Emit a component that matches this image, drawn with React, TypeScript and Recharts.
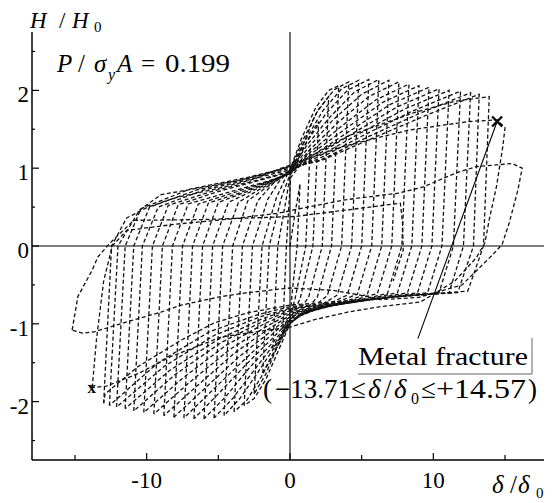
import React from "react";
import { LineChart, Line, XAxis, YAxis, ReferenceLine, ReferenceDot } from "recharts";

type Pt = [number, number];

const SERIF = "'Liberation Serif', 'Times New Roman', 'DejaVu Serif', serif";
const serif = { fontFamily: SERIF };

const xTicks = [-15, -10, -5, 0, 5, 10, 15];
const yTicks = [-2.5, -2, -1.5, -1, -0.5, 0, 0.5, 1, 1.5, 2, 2.5];
const xLabelled = [-10, 0, 10];
const yLabelled = [-2, -1, 0, 1, 2];

// hysteresis history, one array per loading cycle (δ/δ0, H/H0)
const cycle01: Pt[] = [[0, 0], [0.35, 0.42], [0.7, 0.8], [0.5, 0], [0.15, -0.6], [0.02, -0.9], [-0.5, -1.05]];
const cycle02: Pt[] = [[-0.5, -1.05], [-0.25, 0], [-0.05, 0.6], [0.05, 0.88], [0.75, 1.05], [1.4, 1.24], [1.1, 0], [0.35, -0.68], [0, -0.93], [-0.6, -1.15], [-1.2, -1.32]];
const cycle03: Pt[] = [[-1.2, -1.32], [-0.85, 0], [-0.25, 0.62], [0, 0.9], [0.8, 1.2], [1.4, 1.42], [2.0, 1.6], [1.6, 0], [0.7, -0.68], [0, -0.95], [-0.8, -1.25], [-1.9, -1.63]];
const cycle04: Pt[] = [[-1.9, -1.63], [-1.45, 0], [-0.6, 0.62], [0, 0.92], [0.9, 1.3], [1.8, 1.7], [2.7, 1.92], [2.25, 0], [1.3, -0.66], [0.5, -0.86], [0, -0.96], [-0.9, -1.3], [-1.7, -1.65], [-2.5, -1.9]];
const cycle05: Pt[] = [[-2.5, -1.9], [-1.95, 0], [-0.95, 0.62], [-0.4, 0.84], [0, 0.98], [0.8, 1.38], [1.8, 1.78], [2.7, 2.0], [3.4, 2.06], [2.9, 0], [1.9, -0.66], [0.9, -0.86], [0, -1.0], [-0.8, -1.34], [-1.7, -1.72], [-2.5, -1.96], [-3.2, -2.05]];
const cycle06: Pt[] = [[-3.2, -2.05], [-2.62, 0], [-1.55, 0.6], [-0.8, 0.82], [0, 0.98], [0.9, 1.36], [2.0, 1.76], [3.1, 2.01], [4.1, 2.11], [3.6, 0], [2.6, -0.64], [1.5, -0.8], [0.6, -0.9], [0, -1.0], [-0.9, -1.3], [-2.0, -1.68], [-3.0, -1.98], [-3.9, -2.13]];
const cycle07: Pt[] = [[-3.9, -2.13], [-3.32, 0], [-2.25, 0.58], [-1.2, 0.8], [0, 0.97], [1.0, 1.34], [2.3, 1.74], [3.6, 2.02], [4.8, 2.13], [4.3, 0], [3.3, -0.63], [2.0, -0.78], [0.8, -0.88], [0, -0.99], [-1.0, -1.28], [-2.3, -1.64], [-3.5, -1.96], [-4.6, -2.18]];
const cycle08: Pt[] = [[-4.6, -2.18], [-4.0, 0], [-2.95, 0.58], [-1.6, 0.76], [-0.6, 0.88], [0, 0.97], [1.1, 1.32], [2.5, 1.7], [4.0, 2.0], [5.5, 2.14], [5.0, 0], [4.0, -0.63], [2.5, -0.76], [1.0, -0.87], [0, -0.98], [-1.1, -1.26], [-2.6, -1.62], [-4.0, -1.96], [-5.3, -2.21]];
const cycle09: Pt[] = [[-5.3, -2.21], [-4.7, 0], [-3.6, 0.56], [-2.2, 0.72], [-0.8, 0.86], [0, 0.96], [1.2, 1.3], [2.8, 1.66], [4.5, 1.98], [6.2, 2.14], [5.7, 0], [4.7, -0.62], [3.0, -0.74], [1.2, -0.85], [0, -0.97], [-1.2, -1.24], [-2.9, -1.58], [-4.5, -1.94], [-6.0, -2.22]];
const cycle10: Pt[] = [[-6.0, -2.22], [-5.4, 0], [-4.3, 0.56], [-2.6, 0.71], [-1.0, 0.85], [0, 0.95], [1.3, 1.27], [3.0, 1.62], [5.0, 1.95], [6.9, 2.13], [6.4, 0], [5.4, -0.62], [3.5, -0.73], [1.5, -0.84], [0, -0.95], [-1.3, -1.2], [-3.1, -1.53], [-5.0, -1.9], [-6.7, -2.22]];
const cycle11: Pt[] = [[-6.7, -2.22], [-6.1, 0], [-5.0, 0.56], [-3.0, 0.7], [-1.2, 0.84], [0, 0.94], [1.4, 1.24], [3.3, 1.58], [5.5, 1.92], [7.6, 2.11], [7.1, 0], [6.1, -0.61], [4.0, -0.72], [1.8, -0.82], [0, -0.93], [-1.4, -1.16], [-3.3, -1.48], [-5.5, -1.87], [-7.4, -2.21]];
const cycle12: Pt[] = [[-7.4, -2.21], [-6.8, 0], [-5.7, 0.55], [-3.4, 0.69], [-1.3, 0.84], [0, 0.94], [1.5, 1.22], [3.6, 1.54], [6.0, 1.88], [8.3, 2.08], [7.8, 0], [6.8, -0.61], [4.5, -0.71], [2.0, -0.8], [0, -0.91], [-1.5, -1.12], [-3.6, -1.43], [-6.0, -1.84], [-8.1, -2.2]];
const cycle13: Pt[] = [[-8.1, -2.2], [-7.5, 0], [-6.4, 0.54], [-4.0, 0.68], [-1.5, 0.83], [0, 0.93], [1.6, 1.2], [3.9, 1.51], [6.5, 1.85], [9.0, 2.06], [8.5, 0], [7.5, -0.6], [5.0, -0.7], [2.2, -0.79], [0, -0.89], [-1.6, -1.08], [-3.9, -1.38], [-6.5, -1.8], [-8.8, -2.18]];
const cycle14: Pt[] = [[-8.8, -2.18], [-8.2, 0], [-7.1, 0.54], [-4.5, 0.68], [-1.6, 0.83], [0, 0.93], [1.7, 1.18], [4.2, 1.48], [7.0, 1.82], [9.7, 2.04], [9.2, 0], [8.2, -0.6], [5.5, -0.69], [2.5, -0.78], [0, -0.87], [-1.7, -1.04], [-4.2, -1.33], [-7.0, -1.75], [-9.5, -2.16]];
const cycle15: Pt[] = [[-9.5, -2.16], [-8.9, 0], [-7.8, 0.53], [-5.0, 0.7], [-1.8, 0.86], [0, 0.95], [1.8, 1.16], [4.5, 1.46], [7.5, 1.79], [10.4, 2.02], [9.9, 0], [8.9, -0.6], [6.0, -0.68], [2.8, -0.77], [0, -0.85], [-1.8, -1.0], [-4.5, -1.28], [-7.5, -1.7], [-10.2, -2.14]];
const cycle16: Pt[] = [[-10.2, -2.14], [-9.6, 0], [-8.5, 0.52], [-5.5, 0.7], [-2.0, 0.86], [0, 0.96], [1.9, 1.14], [4.8, 1.44], [8.0, 1.76], [11.1, 2.0], [10.6, 0], [9.6, -0.6], [6.5, -0.67], [3.0, -0.76], [0, -0.83], [-1.9, -0.97], [-4.8, -1.24], [-8.0, -1.65], [-10.9, -2.12]];
const cycle17: Pt[] = [[-10.9, -2.12], [-10.3, 0], [-9.2, 0.5], [-6.0, 0.72], [-2.2, 0.88], [0, 0.98], [2.0, 1.12], [5.1, 1.42], [8.5, 1.73], [11.9, 1.99], [11.4, 0], [10.4, -0.6], [7.0, -0.66], [3.3, -0.74], [0, -0.81], [-2.0, -0.94], [-5.0, -1.2], [-8.4, -1.6], [-11.5, -2.09]];
const cycle18: Pt[] = [[-11.5, -2.09], [-10.9, 0], [-9.8, 0.5], [-6.5, 0.72], [-2.4, 0.89], [0, 1.0], [2.1, 1.1], [5.4, 1.4], [9.0, 1.7], [12.6, 1.97], [12.1, 0], [11.1, -0.6], [7.5, -0.65], [3.6, -0.73], [0, -0.8], [-2.1, -0.91], [-5.3, -1.15], [-8.8, -1.55], [-12.1, -2.07]];
const cycle19: Pt[] = [[-12.1, -2.07], [-11.5, 0], [-10.4, 0.48], [-7.0, 0.73], [-3.0, 0.88], [-1.0, 0.97], [0, 1.02], [2.2, 1.1], [5.7, 1.38], [9.5, 1.68], [13.2, 1.95], [12.8, 0], [11.7, -0.6], [8.0, -0.64], [3.9, -0.72], [0, -0.78], [-2.2, -0.88], [-5.6, -1.1], [-9.2, -1.5], [-12.6, -2.05]];
const cycle20: Pt[] = [[-12.6, -2.05], [-12.0, 0], [-10.5, 0.46], [-9.0, 0.66], [-6.2, 0.75], [-3.4, 0.85], [-1.1, 0.96], [0.3, 1.04], [4.0, 1.41], [8.6, 1.71], [11.5, 1.86], [13.9, 1.92], [13.5, 0], [12.4, -0.58], [9.0, -0.63], [4.2, -0.7], [0, -0.76], [-3.0, -0.86], [-5.3, -0.99], [-7.6, -1.21], [-10.6, -1.55], [-12.9, -1.9], [-13.0, -2.02]];
// fracture cycle
const cycle21: Pt[] = [[-13.0, -2.02], [-12.45, 0], [-11.4, 0.36], [-9.9, 0.5], [-8.0, 0.62], [-5.0, 0.74], [-2.5, 0.86], [-0.9, 0.98], [3.7, 1.28], [8.3, 1.49], [12.5, 1.6], [14.45, 1.62], [15.0, 1.52], [14.85, 1.28], [14.4, 0.76], [13.9, 0.34], [13.6, 0.04], [13.0, -0.15], [11.5, -0.45], [10.0, -0.62], [9.1, -0.72], [6.3, -0.78], [4.0, -0.85], [1.65, -0.95], [0.05, -1.04], [-1.5, -1.08], [-4.8, -1.17], [-8.3, -1.42], [-10.6, -1.64], [-12.8, -1.8], [-13.8, -1.82]];
// post-fracture cycles
const cycle22: Pt[] = [[-13.8, -1.82], [-13.5, -1.2], [-13.0, -0.45], [-12.4, 0], [-11.4, 0.2], [-8.0, 0.28], [-4.0, 0.35], [-0.9, 0.42], [3.7, 0.59], [7.6, 0.68], [9.3, 0.76], [11.6, 0.94], [13.0, 1.02], [15.5, 1.06], [16.2, 1.0], [15.9, 0.72], [15.3, 0.3], [14.8, 0.02], [14.1, -0.12], [12.0, -0.5], [9.0, -0.66], [6.3, -0.69], [5.5, -0.65], [3.0, -0.57], [0, -0.54], [-3.0, -0.6], [-4.8, -0.65], [-7.6, -0.76], [-9.0, -0.85], [-11.3, -0.97], [-13.6, -1.1], [-14.5, -1.12], [-15.2, -1.08]];
const cycle23: Pt[] = [[-15.2, -1.08], [-14.8, -0.65], [-13.8, -0.31], [-13.4, -0.14], [-12.6, 0.03], [-10.9, 0.33], [-6.0, 0.34], [0.4, 0.38], [7.7, 0.55], [7.85, 0.3], [7.9, -0.05], [7.2, -0.45]];

const cycles = [
  cycle01, cycle02, cycle03, cycle04, cycle05, cycle06, cycle07, cycle08,
  cycle09, cycle10, cycle11, cycle12, cycle13, cycle14, cycle15, cycle16,
  cycle17, cycle18, cycle19, cycle20, cycle21, cycle22, cycle23,
];

const fractureTension: Pt = [14.45, 1.6];
const fractureCompression: Pt = [-13.83, -1.82];
const leaderEnd: Pt = [8.92, -1.19];

const BottomTick = ({ x, y, payload }: any) => {
  const major = xLabelled.includes(payload.value);
  return (
    <g>
      <line x1={x} x2={x} y1={y} y2={y - (major ? 7 : 5)} stroke="#000" strokeWidth={1.2} />
      {major && (
        <text x={x} y={y + 28} textAnchor="middle" style={serif} fontSize={23} fill="#000">
          {payload.value}
        </text>
      )}
    </g>
  );
};

const TopTick = ({ x, y }: any) => (
  <line x1={x} x2={x} y1={y} y2={y + 6} stroke="#000" strokeWidth={1.2} />
);

const LeftTick = ({ x, y, payload }: any) => {
  const major = yLabelled.includes(payload.value);
  return (
    <g>
      <line x1={x} x2={x + (major ? 7 : 3)} y1={y} y2={y} stroke="#000" strokeWidth={1.2} />
      {major && (
        <text x={x - 3} y={y + 12} textAnchor="end" style={serif} fontSize={23} fill="#000">
          {payload.value}
        </text>
      )}
    </g>
  );
};

const RightTick = ({ x, y }: any) => (
  <line x1={x} x2={x - 6} y1={y} y2={y} stroke="#000" strokeWidth={1.2} />
);

const BigCross = ({ cx, cy }: any) => (
  <g stroke="#000" strokeWidth={2.4}>
    <line x1={cx - 5} y1={cy - 5} x2={cx + 5} y2={cy + 5} />
    <line x1={cx - 5} y1={cy + 5} x2={cx + 5} y2={cy - 5} />
  </g>
);

const SmallX = ({ cx, cy }: any) => (
  <text x={cx} y={cy + 5} textAnchor="middle" style={serif} fontWeight="bold" fontSize={17} fill="#000">
    x
  </text>
);

export default function App() {
  return (
    <div style={{ position: "relative", width: 544, height: 495 }}>
      <LineChart width={544} height={495} margin={{ top: 24, right: 4, bottom: 0, left: 0 }}>
        <XAxis
          dataKey="x"
          type="number"
          domain={[-18, 18]}
          allowDataOverflow
          ticks={xTicks}
          interval={0}
          height={43}
          tickSize={0}
          tickMargin={0}
          tickLine={false}
          tick={<BottomTick />}
          axisLine={{ stroke: "#000", strokeWidth: 1.5 }}
        />
        <XAxis
          xAxisId="top"
          orientation="top"
          type="number"
          domain={[-18, 18]}
          allowDataOverflow
          ticks={xTicks}
          interval={0}
          height={0}
          tickSize={0}
          tickMargin={0}
          tickLine={false}
          tick={<TopTick />}
          axisLine={{ stroke: "#000", strokeWidth: 1.5 }}
        />
        <YAxis
          type="number"
          domain={[-2.75, 2.75]}
          allowDataOverflow
          ticks={yTicks}
          interval={0}
          width={24}
          tickSize={0}
          tickMargin={0}
          tickLine={false}
          tick={<LeftTick />}
          axisLine={{ stroke: "#000", strokeWidth: 1.5 }}
        />
        <YAxis
          yAxisId="right"
          orientation="right"
          type="number"
          domain={[-2.75, 2.75]}
          allowDataOverflow
          ticks={yTicks}
          interval={0}
          width={0}
          tickSize={0}
          tickMargin={0}
          tickLine={false}
          tick={<RightTick />}
          axisLine={{ stroke: "#000", strokeWidth: 1.5 }}
        />
        <ReferenceLine x={0} stroke="#000" strokeWidth={1.1} />
        <ReferenceLine y={0} stroke="#000" strokeWidth={1.1} />
        {cycles.map((c, i) => (
          <Line
            key={`cycle-${i}`}
            data={c.map(([x, y]) => ({ x, y }))}
            dataKey="y"
            type="linear"
            stroke="#111"
            strokeWidth={1.3}
            strokeDasharray="4 2.5"
            dot={false}
            activeDot={false}
            isAnimationActive={false}
          />
        ))}
        <ReferenceLine
          segment={[
            { x: fractureTension[0], y: fractureTension[1] },
            { x: leaderEnd[0], y: leaderEnd[1] },
          ]}
          stroke="#000"
          strokeWidth={1.1}
        />
        <ReferenceDot x={fractureTension[0]} y={fractureTension[1]} r={0} shape={<BigCross />} />
        <ReferenceDot x={fractureCompression[0]} y={fractureCompression[1]} r={0} shape={<SmallX />} />
      </LineChart>
      <svg
        width={544}
        height={495}
        style={{ position: "absolute", left: 0, top: 0, pointerEvents: "none", ...serif }}
        fill="#000"
      >
        <text y={20} fontSize={23}>
          <tspan x={22} fontStyle="italic">H</tspan>
          <tspan x={51}>/</tspan>
          <tspan x={64} fontStyle="italic">H</tspan>
          <tspan x={86} y={24} fontSize={15}>0</tspan>
        </text>
        <text y={64} fontSize={25}>
          <tspan x={49} fontStyle="italic">P</tspan>
          <tspan x={70}>/</tspan>
          <tspan x={86} fontStyle="italic">σ</tspan>
          <tspan x={100} y={72} fontSize={16} fontStyle="italic">y</tspan>
          <tspan x={109} y={64} fontStyle="italic">A</tspan>
          <tspan x={133}>=</tspan>
        </text>
        <text x={157} y={64} fontSize={25} textLength={65} lengthAdjust="spacingAndGlyphs">
          0.199
        </text>
        <text x={350} y={357} fontSize={25} textLength={170} lengthAdjust="spacingAndGlyphs">
          Metal fracture
        </text>
        <line x1={350} y1={366} x2={524} y2={366} stroke="#666" strokeWidth={1} />
        <line x1={524} y1={330} x2={524} y2={366} stroke="#666" strokeWidth={1} />
        <text y={390} fontSize={27}>
          <tspan x={255}>(</tspan>
          <tspan x={267}>−13.71</tspan>
          <tspan x={343}>≤</tspan>
          <tspan x={360} fontStyle="italic">δ</tspan>
          <tspan x={376}>/</tspan>
          <tspan x={386} fontStyle="italic">δ</tspan>
          <tspan x={403} y={396} fontSize={16}>0</tspan>
          <tspan x={413} y={390}>≤</tspan>
        </text>
        <text x={428} y={390} fontSize={27} textLength={90} lengthAdjust="spacingAndGlyphs">
          +14.57
        </text>
        <text x={520} y={390} fontSize={27}>)</text>
        <text y={485} fontSize={25}>
          <tspan x={484} fontStyle="italic">δ</tspan>
          <tspan x={502}>/</tspan>
          <tspan x={510} fontStyle="italic">δ</tspan>
          <tspan x={528} y={490} fontSize={15}>0</tspan>
        </text>
      </svg>
    </div>
  );
}
